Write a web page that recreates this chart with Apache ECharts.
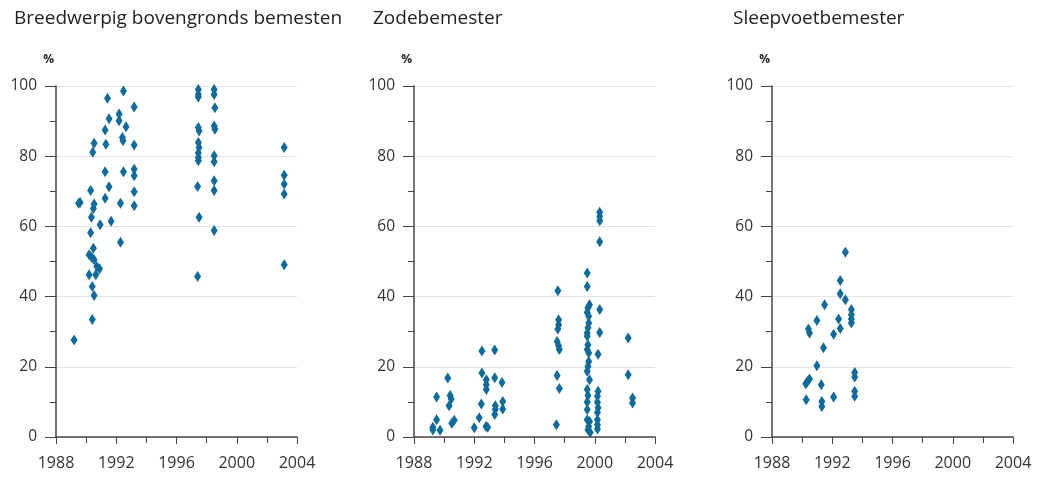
<!DOCTYPE html>
<html>
<head>
<meta charset="utf-8">
<script src="https://cdn.jsdelivr.net/npm/echarts@6/dist/echarts.min.js"></script>
<style>
  html, body { margin: 0; padding: 0; background: #fff; }
  #main { width: 1037px; height: 477px; }
</style>
</head>
<body>
<div id="main"></div>
<script>
// titels van de drie panelen
var titels = ['Breedwerpig bovengronds bemesten', 'Zodebemester', 'Sleepvoetbemester']

// [jaar, %] per techniek
var breedwerpig = [
  [1989.2, 27.6], [1989.5, 66.6], [1989.6, 66.8],
  [1990.2, 51.9], [1990.2, 46.2], [1990.3, 70.2], [1990.3, 58.2], [1990.35, 62.6],
  [1990.37, 51.2], [1990.41, 42.9], [1990.41, 33.5], [1990.44, 81.1], [1990.48, 53.8],
  [1990.48, 65.1], [1990.53, 66.4], [1990.53, 83.7], [1990.53, 50.5], [1990.53, 40.3],
  [1990.64, 46.2], [1990.71, 48.6], [1990.89, 47.9], [1990.93, 60.5],
  [1991.26, 87.5], [1991.26, 75.6], [1991.26, 68.0], [1991.31, 83.4], [1991.42, 96.5],
  [1991.52, 90.7], [1991.52, 71.3], [1991.66, 61.5],
  [1992.19, 92.0], [1992.19, 90.1], [1992.28, 66.6], [1992.28, 55.5], [1992.41, 85.3],
  [1992.45, 84.4], [1992.48, 98.6], [1992.48, 75.6], [1992.65, 88.4],
  [1993.19, 94.0], [1993.19, 83.2], [1993.19, 76.3], [1993.19, 74.4], [1993.19, 69.9],
  [1993.19, 65.9],
  [1997.45, 99.0], [1997.45, 97.6], [1997.45, 96.9], [1997.45, 88.2], [1997.5, 87.2],
  [1997.45, 83.9], [1997.5, 82.5], [1997.45, 80.9], [1997.45, 79.6], [1997.45, 78.7],
  [1997.4, 71.4], [1997.5, 62.6], [1997.4, 45.7],
  [1998.5, 99.0], [1998.5, 97.6], [1998.55, 93.8], [1998.5, 88.6], [1998.55, 87.7],
  [1998.5, 80.1], [1998.5, 78.4], [1998.5, 73.0], [1998.5, 70.2], [1998.5, 58.8],
  [2003.15, 82.5], [2003.15, 74.6], [2003.15, 72.1], [2003.15, 69.2], [2003.15, 49.1]
]

var zodebemester = [
  [1989.25, 2.8], [1989.25, 2.0], [1989.5, 4.9], [1989.73, 1.9], [1989.5, 11.4],
  [1990.24, 16.8], [1990.4, 11.8], [1990.47, 10.8], [1990.33, 8.9], [1990.51, 3.9],
  [1990.67, 4.8],
  [1992.0, 2.6], [1992.33, 5.5], [1992.78, 3.0], [1992.89, 2.8], [1992.51, 24.5],
  [1992.51, 18.2], [1992.8, 16.3], [1992.8, 14.9], [1992.8, 13.5], [1992.47, 9.4],
  [1993.36, 24.8], [1993.36, 16.9], [1993.84, 15.5], [1993.4, 8.9], [1993.4, 7.8],
  [1993.36, 6.4], [1993.89, 10.1], [1993.89, 8.0],
  [1997.55, 41.7], [1997.6, 33.4], [1997.6, 32.0], [1997.55, 30.8], [1997.5, 27.2],
  [1997.6, 26.0], [1997.65, 24.9], [1997.5, 17.5], [1997.65, 13.8], [1997.45, 3.5],
  [1999.5, 46.7], [1999.5, 42.9], [1999.65, 37.7], [1999.55, 36.8], [1999.5, 35.5],
  [1999.6, 34.4], [1999.6, 32.5], [1999.55, 31.1], [1999.5, 29.6], [1999.5, 28.7],
  [1999.55, 26.3], [1999.5, 24.9], [1999.6, 23.9], [1999.6, 21.5], [1999.55, 20.1],
  [1999.5, 18.7], [1999.65, 16.3], [1999.5, 13.5], [1999.55, 11.8], [1999.5, 10.0],
  [1999.5, 7.8], [1999.5, 4.9], [1999.65, 4.4], [1999.6, 3.0], [1999.55, 2.1],
  [1999.7, 1.3],
  [2000.33, 64.0], [2000.33, 62.8], [2000.33, 61.6], [2000.33, 55.6], [2000.33, 36.3],
  [2000.33, 29.8], [2000.22, 23.6], [2000.22, 13.0], [2000.18, 11.6], [2000.18, 9.9],
  [2000.22, 8.3], [2000.18, 7.0], [2000.18, 4.9], [2000.18, 3.5], [2000.18, 2.3],
  [2002.22, 28.2], [2002.22, 17.7], [2002.51, 11.1], [2002.51, 9.7]
]

var sleepvoet = [
  [1990.24, 15.2], [1990.27, 10.6], [1990.36, 15.8], [1990.42, 30.8], [1990.49, 29.6],
  [1990.49, 16.5], [1990.98, 33.2], [1990.98, 20.3], [1991.27, 14.9], [1991.31, 10.1],
  [1991.31, 8.7], [1991.42, 25.4], [1991.49, 37.7], [1992.09, 29.3], [1992.09, 11.4],
  [1992.42, 33.6], [1992.53, 44.6], [1992.53, 40.8], [1992.53, 30.9], [1992.87, 52.6],
  [1992.87, 39.1], [1993.27, 36.3], [1993.27, 34.8], [1993.27, 33.6], [1993.27, 32.5],
  [1993.49, 18.4], [1993.49, 17.1], [1993.49, 13.0], [1993.49, 11.6]
]

var jaarMin = 1988
var jaarMax = 2004
var procentMax = 100

var fontFam = "'Open Sans', 'Noto Sans', sans-serif"
var tekstKleur = '#333333'
var asKleur = '#4a4444'
var puntKleur = '#0e6b9b'

var paneelLinks = [56, 414, 772]
var titelLinks = [9, 368, 728]
var reeksen = [breedwerpig, zodebemester, sleepvoet]

var grids = []
var xAxes = []
var yAxes = []
var series = []
var titles = []

paneelLinks.forEach(function (left, i) {
  titles.push({
    text: titels[i],
    left: titelLinks[i],
    top: 4,
    textStyle: { fontFamily: fontFam, fontSize: 19, fontWeight: 'normal', color: '#222222' }
  })
  grids.push({ left: left, top: 86, width: 241, height: 351 })
  xAxes.push({
    gridIndex: i,
    type: 'value',
    min: jaarMin,
    max: jaarMax,
    interval: 4,
    axisLine: { show: true, onZero: false, lineStyle: { color: asKleur, width: 1.5 } },
    axisTick: { show: true, length: 7, lineStyle: { color: asKleur } },
    minorTick: { show: true, splitNumber: 2, length: 6, lineStyle: { color: asKleur } },
    splitLine: { show: false },
    axisLabel: {
      color: tekstKleur, fontFamily: fontFam, fontSize: 16, margin: 18,
      formatter: function (v) { return String(v) }
    }
  })
  yAxes.push({
    gridIndex: i,
    type: 'value',
    min: 0,
    max: procentMax,
    interval: 20,
    name: '%',
    nameLocation: 'end',
    nameGap: 20,
    nameTextStyle: { fontFamily: fontFam, fontSize: 12, fontWeight: 'bold', color: '#222222', align: 'right', padding: [0, 2, 0, 0] },
    axisLine: { show: true, lineStyle: { color: asKleur, width: 1.5 } },
    axisTick: { show: true, length: 11, lineStyle: { color: asKleur } },
    minorTick: { show: true, splitNumber: 2, length: 6, lineStyle: { color: asKleur } },
    splitLine: { show: true, lineStyle: { color: '#e2e2e2', width: 1 } },
    axisLabel: { color: tekstKleur, fontFamily: fontFam, fontSize: 15.5, margin: 19 }
  })
  series.push({
    type: 'scatter',
    xAxisIndex: i,
    yAxisIndex: i,
    data: reeksen[i],
    symbol: 'diamond',
    symbolSize: [7, 11],
    itemStyle: { color: puntKleur, opacity: 1 },
    silent: true
  })
})

var myChart = echarts.init(document.getElementById('main'))
myChart.setOption({
  animation: false,
  title: titles,
  grid: grids,
  xAxis: xAxes,
  yAxis: yAxes,
  series: series
})
</script>
</body>
</html>
